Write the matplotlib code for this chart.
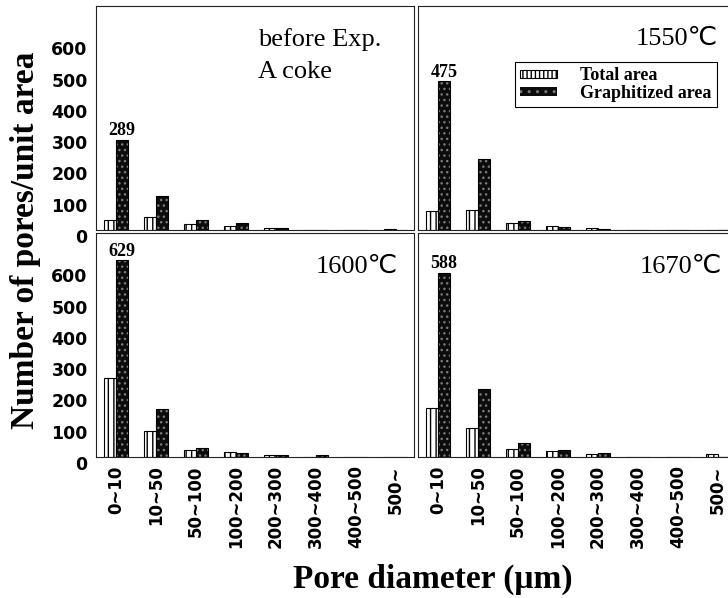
import matplotlib
matplotlib.use('Agg')
import matplotlib.pyplot as plt
import numpy as np
from matplotlib.patches import Patch
from matplotlib.transforms import ScaledTranslation

# ---------------- data ----------------
categories = ['0~10', '10~50', '50~100', '100~200', '200~300', '300~400', '400~500', '500~']
before_total = [32, 42, 18, 12, 6, 0, 0, 3]
before_graph = [289, 108, 32, 23, 6, 0, 0, 0]
t1550_total = [61, 65, 22, 14, 6, 0, 0, 0]
t1550_graph = [475, 228, 30, 11, 2, 0, 0, 0]
t1600_total = [251, 83, 22, 15, 5, 0, 0, 0]
t1600_graph = [629, 152, 28, 14, 5, 6, 0, 0]
t1670_total = [156, 94, 27, 18, 8, 0, 0, 8]
t1670_graph = [588, 217, 45, 21, 12, 0, 0, 0]
yticks = [0, 100, 200, 300, 400, 500, 600]
series_names = ['Total area', 'Graphitized area']

SERIF = ['Liberation Serif', 'DejaVu Serif']
PANEL_FONT = ['Liberation Serif', 'DejaVu Sans']
SANS = ['DejaVu Sans']

W, H = 728, 598
fig = plt.figure(figsize=(W / 100, H / 100), dpi=100)


def add_ax(x0, ytop, w, h):
    return fig.add_axes([x0 / W, 1 - (ytop + h) / H, w / W, h / H])


GRAPH_FACE = '#0c0c0c'
GRAPH_SPECK = '#7a7a7a'


def draw(ax, total, graph, xmax, show_x, show_y):
    x = np.arange(len(categories))
    w = 0.3
    ax.bar(x - w / 2, total, w, facecolor='white', edgecolor='black',
           hatch='|||', linewidth=0.8)
    ax.bar(x + w / 2, graph, w, facecolor=GRAPH_FACE, edgecolor=GRAPH_SPECK,
           hatch='...', linewidth=0)
    ax.bar(x + w / 2, graph, w, fill=False, edgecolor='black', linewidth=0.8)
    ax.set_xlim(-0.5, xmax)
    ax.set_ylim(0, 716)
    ax.set_xticks(x)
    ax.set_yticks(yticks)
    ax.tick_params(length=0)
    for s in ax.spines.values():
        s.set_linewidth(0.8)
        s.set_color('#222222')
    if show_x:
        ax.set_xticklabels(categories, rotation=90, fontsize=12,
                           fontweight='bold', family=SANS, va='top')
        ax.tick_params(axis='x', pad=6)
    else:
        ax.set_xticklabels([])
    if show_y:
        ax.set_yticklabels([str(v) for v in yticks], fontsize=12.5,
                           fontweight='bold', family=SANS)
        ax.tick_params(axis='y', pad=6)
        off = ScaledTranslation(0, -6 / 100, fig.dpi_scale_trans)
        for lab in ax.get_yticklabels():
            lab.set_transform(lab.get_transform() + off)
    else:
        ax.set_yticklabels([])
    # value label on the tallest graphitized bar
    ax.text(0 + w / 2, graph[0] + 2, str(graph[0]), ha='center', va='bottom',
            fontsize=13, fontweight='bold', family=SERIF)


ax_tl = add_ax(96, 6, 318, 224)
ax_tr = add_ax(418, 6, 320, 224)
ax_bl = add_ax(96, 233, 318, 224)
ax_br = add_ax(418, 233, 320, 224)

draw(ax_tl, before_total, before_graph, 7.45, False, True)
draw(ax_tr, t1550_total, t1550_graph, 7.5, False, False)
draw(ax_bl, t1600_total, t1600_graph, 7.45, True, True)
draw(ax_br, t1670_total, t1670_graph, 7.5, True, False)

# panel captions
ax_tl.text(0.509, 0.821, 'before Exp.', transform=ax_tl.transAxes,
           ha='left', va='baseline', fontsize=19, family=PANEL_FONT)
ax_tl.text(0.509, 0.679, 'A coke', transform=ax_tl.transAxes,
           ha='left', va='baseline', fontsize=19, family=PANEL_FONT)
ax_tr.text(0.9375, 0.826, '1550\u2103', transform=ax_tr.transAxes,
           ha='right', va='baseline', fontsize=19, family=PANEL_FONT)
ax_bl.text(0.95, 0.822, '1600\u2103', transform=ax_bl.transAxes,
           ha='right', va='baseline', fontsize=19, family=PANEL_FONT)
ax_br.text(0.95, 0.822, '1670\u2103', transform=ax_br.transAxes,
           ha='right', va='baseline', fontsize=19, family=PANEL_FONT)

# legend
handles = [Patch(facecolor='white', edgecolor='black', hatch='||||', linewidth=0.8),
           Patch(facecolor=GRAPH_FACE, edgecolor=GRAPH_SPECK, hatch='..', linewidth=0)]
leg = ax_tr.legend(handles, series_names, loc='upper left',
                   bbox_to_anchor=((515 - 418) / 320, (230 - 62) / 224),
                   borderaxespad=0, frameon=True, fancybox=False,
                   framealpha=1, edgecolor='black', handlelength=2.0,
                   handleheight=0.35, handletextpad=1.3, labelspacing=0.02,
                   borderpad=0.3,
                   prop={'family': SERIF, 'weight': 'bold', 'size': 13})
leg.get_frame().set_linewidth(0.8)

# axis titles
fig.text(26 / W, 1 - 240 / H, 'Number of pores/unit area', rotation=90,
         ha='center', va='center', fontsize=24, fontweight='bold', family=SERIF)
fig.text(433 / W, 1 - 588 / H, 'Pore diameter (\u03bcm)', ha='center',
         va='baseline', fontsize=24, fontweight='bold', family=SERIF)

fig.savefig('out.png', dpi=100)
